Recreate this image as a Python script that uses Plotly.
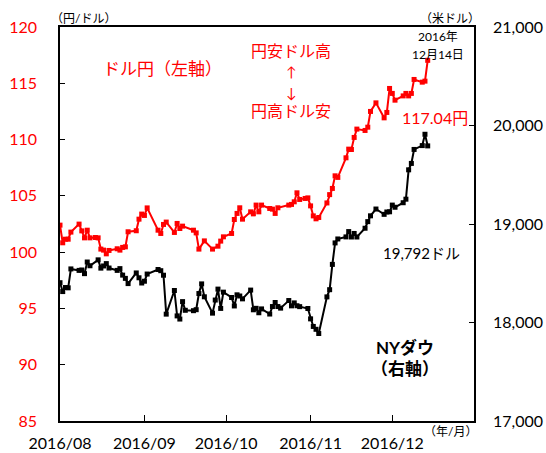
import plotly.graph_objects as go

# ---- data ----
usdjpy_dates = [
    "2016-08-01", "2016-08-02", "2016-08-03", "2016-08-04", "2016-08-05", "2016-08-08", "2016-08-09", "2016-08-10",
    "2016-08-11", "2016-08-12", "2016-08-14", "2016-08-15", "2016-08-16", "2016-08-17", "2016-08-18", "2016-08-19",
    "2016-08-22", "2016-08-23", "2016-08-24", "2016-08-25", "2016-08-26", "2016-08-29", "2016-08-30", "2016-08-31",
    "2016-09-01", "2016-09-02", "2016-09-06", "2016-09-07", "2016-09-08", "2016-09-09", "2016-09-12", "2016-09-13",
    "2016-09-14", "2016-09-15", "2016-09-19", "2016-09-20", "2016-09-21", "2016-09-23", "2016-09-26", "2016-09-28",
    "2016-09-29", "2016-09-30",
    "2016-10-03", "2016-10-04", "2016-10-05", "2016-10-06", "2016-10-07", "2016-10-10", "2016-10-11", "2016-10-12",
    "2016-10-13", "2016-10-14", "2016-10-17", "2016-10-18", "2016-10-19", "2016-10-20", "2016-10-24", "2016-10-25",
    "2016-10-26", "2016-10-27", "2016-10-28", "2016-10-30", "2016-10-31",
    "2016-11-01", "2016-11-02", "2016-11-03", "2016-11-04", "2016-11-07", "2016-11-08", "2016-11-09", "2016-11-10",
    "2016-11-11", "2016-11-14", "2016-11-15", "2016-11-16", "2016-11-17", "2016-11-18", "2016-11-21", "2016-11-22",
    "2016-11-23", "2016-11-25", "2016-11-28", "2016-11-29", "2016-11-30",
    "2016-12-01", "2016-12-02", "2016-12-05", "2016-12-06", "2016-12-07", "2016-12-08", "2016-12-09", "2016-12-12",
    "2016-12-13", "2016-12-14",
]
usdjpy_values = [
    102.40, 100.83, 101.15, 101.15, 101.78, 102.49, 101.89, 101.27, 101.95, 101.27, 101.30, 101.27, 100.27, 100.18,
    99.85, 100.15, 100.30, 100.18, 100.42, 100.47, 101.81, 101.90, 102.93, 103.38,
    103.26, 103.93, 101.95, 101.66, 102.46, 102.67, 101.75, 102.55, 102.10, 102.31, 101.95, 101.71, 100.27, 101.00,
    100.27, 100.53, 100.98, 101.36,
    101.66, 102.90, 103.44, 103.94, 102.93, 103.58, 103.40, 104.18, 103.58, 104.18, 103.88, 103.82, 103.44, 103.94,
    104.18, 104.24, 104.47, 105.27, 104.68, 104.77, 104.82,
    104.11, 103.22, 102.96, 103.08, 104.37, 105.11, 105.66, 106.78, 106.64, 108.38, 109.15, 109.12, 110.19, 110.93,
    110.81, 111.10, 112.50, 113.26, 111.93, 112.41, 114.54,
    114.10, 113.50, 113.88, 114.10, 113.88, 114.10, 115.34, 115.10, 115.19, 117.04,
]

dow_dates = [
    "2016-08-01", "2016-08-02", "2016-08-03", "2016-08-04", "2016-08-05", "2016-08-08", "2016-08-09", "2016-08-10",
    "2016-08-11", "2016-08-12", "2016-08-15", "2016-08-16", "2016-08-17", "2016-08-18", "2016-08-19", "2016-08-22",
    "2016-08-23", "2016-08-24", "2016-08-25", "2016-08-26", "2016-08-29", "2016-08-30", "2016-08-31",
    "2016-09-01", "2016-09-02", "2016-09-06", "2016-09-07", "2016-09-08", "2016-09-09", "2016-09-12", "2016-09-13",
    "2016-09-14", "2016-09-15", "2016-09-16", "2016-09-19", "2016-09-20", "2016-09-21", "2016-09-22", "2016-09-23",
    "2016-09-26", "2016-09-27", "2016-09-28", "2016-09-29", "2016-09-30",
    "2016-10-03", "2016-10-04", "2016-10-05", "2016-10-06", "2016-10-07", "2016-10-10", "2016-10-11", "2016-10-12",
    "2016-10-13", "2016-10-14", "2016-10-17", "2016-10-18", "2016-10-19", "2016-10-20", "2016-10-21", "2016-10-24",
    "2016-10-25", "2016-10-26", "2016-10-27", "2016-10-28", "2016-10-31",
    "2016-11-01", "2016-11-02", "2016-11-03", "2016-11-04", "2016-11-07", "2016-11-08", "2016-11-09", "2016-11-10",
    "2016-11-11", "2016-11-14", "2016-11-15", "2016-11-16", "2016-11-17", "2016-11-18", "2016-11-21", "2016-11-22",
    "2016-11-23", "2016-11-25", "2016-11-28", "2016-11-29", "2016-11-30",
    "2016-12-01", "2016-12-02", "2016-12-05", "2016-12-06", "2016-12-07", "2016-12-08", "2016-12-09", "2016-12-12",
    "2016-12-13", "2016-12-14",
]
dow_values = [
    18404, 18314, 18355, 18352, 18544, 18529, 18533, 18496, 18614, 18576, 18636, 18552, 18574, 18598, 18553, 18529,
    18547, 18481, 18448, 18395, 18503, 18454, 18401,
    18419, 18492, 18538, 18526, 18480, 18085, 18325, 18067, 18035, 18212, 18124, 18120, 18130, 18294, 18392, 18261,
    18095, 18228, 18339, 18143, 18308,
    18254, 18168, 18281, 18269, 18240, 18329, 18129, 18144, 18099, 18138, 18086, 18162, 18203, 18162, 18146, 18223,
    18169, 18199, 18170, 18161, 18142,
    18037, 17960, 17931, 17888, 18260, 18333, 18590, 18808, 18848, 18869, 18923, 18868, 18904, 18868, 18957, 19024,
    19083, 19152, 19098, 19122, 19124,
    19192, 19170, 19216, 19252, 19550, 19615, 19757, 19796, 19911, 19793,
]

month_ticks = ["2016-08-01", "2016-09-01", "2016-10-01", "2016-11-01", "2016-12-01"]
month_labels = ["2016/08", "2016/09", "2016/10", "2016/11", "2016/12"]
left_ticks = [85, 90, 95, 100, 105, 110, 115, 120]
right_ticks = [17000, 18000, 19000, 20000, 21000]
right_labels = ["17,000", "18,000", "19,000", "20,000", "21,000"]

RED = "#FF0000"
FONT = "Lato, 'Noto Sans CJK JP', sans-serif"

W, H = 546, 453
L, R, T, B = 60, 72, 27, 32
PW, PH = W - L - R, H - T - B


def px(x):
    return (x - L) / PW


def py(y):
    return (H - B - y) / PH


fig = go.Figure()
fig.add_trace(go.Scatter(
    x=usdjpy_dates, y=usdjpy_values, mode="lines+markers", yaxis="y",
    line=dict(color=RED, width=2), marker=dict(symbol="square", size=5, color=RED),
    showlegend=False, hoverinfo="skip"))
fig.add_trace(go.Scatter(
    x=dow_dates, y=dow_values, mode="lines+markers", yaxis="y2",
    line=dict(color="black", width=2), marker=dict(symbol="square", size=5, color="black"),
    showlegend=False, hoverinfo="skip"))

fig.update_layout(
    width=W, height=H,
    margin=dict(l=L, r=R, t=T, b=B, pad=0, autoexpand=False),
    paper_bgcolor="white", plot_bgcolor="white",
    font=dict(family=FONT, color="black"),
    xaxis=dict(
        type="date", range=["2016-08-01", "2016-12-31"], automargin=False,
        tickvals=month_ticks, ticktext=month_labels,
        ticks="inside", ticklen=6, tickwidth=1, tickcolor="black",
        showline=True, linecolor="black", linewidth=1.5, mirror=True,
        showgrid=False, zeroline=False,
        tickfont=dict(size=16, color="black", family=FONT),
        ticklabelstandoff=7,
    ),
    yaxis=dict(
        range=[85, 120], tickvals=left_ticks, automargin=False,
        ticks="inside", ticklen=5, tickwidth=1, tickcolor="black",
        showline=True, linecolor="black", linewidth=1.5,
        showgrid=False, zeroline=False,
        tickfont=dict(size=16, color=RED, family=FONT),
        ticklabelstandoff=18,
    ),
    yaxis2=dict(
        range=[17000, 21000], tickvals=right_ticks, ticktext=right_labels, automargin=False,
        overlaying="y", side="right",
        ticks="inside", ticklen=5, tickwidth=1, tickcolor="black",
        showline=True, linecolor="black", linewidth=1.5,
        showgrid=False, zeroline=False,
        tickfont=dict(size=16, color="black", family=FONT),
        ticklabelstandoff=14,
    ),
)

annots = [
    # (text, x_px, y_px, size, color, bold)
    ("ドル円とNYダウ", 254, -12, 24, "black", True),
    ("（円/ドル）", 83, 18, 12, "black", False),
    ("（米ドル）", 450, 18, 12, "black", False),
    ("2016年", 438, 36, 12, "black", False),
    ("12月14日", 438, 54, 12, "black", False),
    ("ドル円（左軸）", 162, 68, 17, RED, False),
    ("円安ドル高", 291, 50, 16, RED, False),
    ("↑", 291, 71, 14, RED, False),
    ("↓", 291, 92, 14, RED, False),
    ("円高ドル安", 291, 111, 16, RED, False),
    ("117.04円", 435, 117, 16, RED, False),
    ("19,792ドル", 421, 253, 15, "black", False),
    ("NYダウ", 405, 347, 17, "black", True),
    ("（右軸）", 405, 368, 17, "black", True),
    ("（年/月）", 450, 431, 12, "black", False),
]
for text, x, y, size, color, bold in annots:
    fig.add_annotation(
        text=f"<b>{text}</b>" if bold else text,
        xref="paper", yref="paper", x=px(x), y=py(y),
        xanchor="center", yanchor="middle", showarrow=False,
        font=dict(size=size, color=color, family=FONT),
    )

fig.write_html(
    "out.html",
    config={"displayModeBar": False},
    post_script="document.body.style.margin='0';document.body.style.overflow='hidden';",
)
